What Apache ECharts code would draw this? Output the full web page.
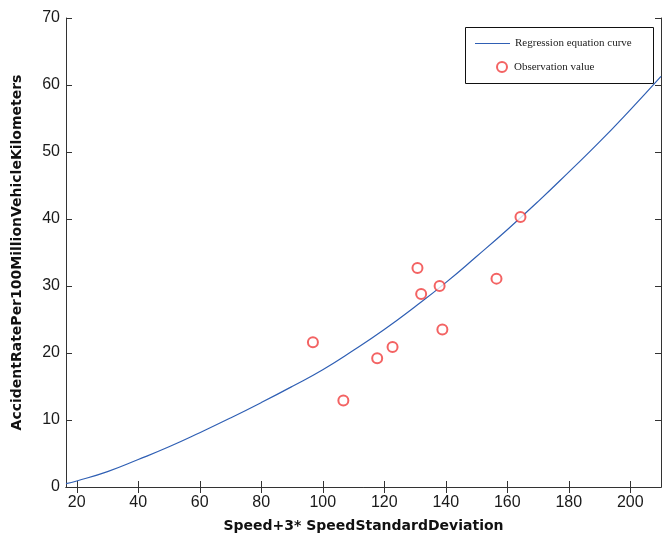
<!DOCTYPE html>
<html>
<head>
<meta charset="utf-8">
<script src="https://cdn.jsdelivr.net/npm/echarts@6/dist/echarts.min.js"></script>
<style>
html,body{margin:0;padding:0;background:#fff;}
#chart{width:662px;height:540px;}
</style>
</head>
<body>
<div id="chart"></div>
<script>
// Regression curve
const curveX = [16.5, 20, 30, 40, 50, 60, 70, 80, 90, 100, 110, 120, 130, 140, 150, 160, 170, 180, 190, 200, 210];
const curveY = [0.5, 0.9, 2.3, 4.1, 6.0, 8.1, 10.3, 12.6, 15.0, 17.5, 20.4, 23.5, 26.9, 30.5, 34.4, 38.4, 42.6, 47.0, 51.5, 56.3, 61.3];
// Observation values
const obsX = [96.8, 106.7, 117.7, 122.7, 130.8, 132.0, 138.0, 138.9, 156.5, 164.3];
const obsY = [21.6, 12.9, 19.2, 20.9, 32.7, 28.8, 30.0, 23.5, 31.1, 40.3];
// Tick labels
const xTicks = [20, 40, 60, 80, 100, 120, 140, 160, 180, 200];
const yTicks = [0, 10, 20, 30, 40, 50, 60, 70];

const chart = echarts.init(document.getElementById('chart'));
const axisCol = '#333';
const labelFont = {fontFamily: 'Liberation Sans', fontSize: 16, color: '#1a1a1a'};
const nameFont = {fontFamily: 'DejaVu Sans', fontSize: 14, fontWeight: 'bold', color: '#111'};

chart.setOption({
  backgroundColor: '#fff',
  animation: false,
  grid: {left: 66, right: 1, top: 18, bottom: 53},
  xAxis: [{
    type: 'value', min: 16.5, max: 210, position: 'bottom',
    name: 'Speed+3* SpeedStandardDeviation', nameLocation: 'middle', nameGap: 32,
    nameTextStyle: nameFont,
    axisLine: {show: true, lineStyle: {color: axisCol, width: 1}},
    axisTick: {show: true, inside: true, length: 6, customValues: xTicks, lineStyle: {color: axisCol}},
    axisLabel: Object.assign({customValues: xTicks, margin: 8}, labelFont),
    splitLine: {show: false}
  }, {
    type: 'value', min: 16.5, max: 210, position: 'top',
    axisLine: {show: true, lineStyle: {color: axisCol, width: 1}},
    axisTick: {show: true, inside: true, length: 6, customValues: xTicks, lineStyle: {color: axisCol}},
    axisLabel: {show: false},
    splitLine: {show: false}
  }],
  yAxis: [{
    type: 'value', min: 0, max: 70, interval: 10, position: 'left',
    name: 'AccidentRatePer100MillionVehicleKilometers', nameLocation: 'middle', nameGap: 42,
    nameTextStyle: nameFont,
    axisLine: {show: true, lineStyle: {color: axisCol, width: 1}},
    axisTick: {show: true, inside: true, length: 6, lineStyle: {color: axisCol}},
    axisLabel: Object.assign({margin: 6, customValues: yTicks}, labelFont),
    splitLine: {show: false}
  }, {
    type: 'value', min: 0, max: 70, interval: 10, position: 'right',
    axisLine: {show: true, lineStyle: {color: axisCol, width: 1}},
    axisTick: {show: true, inside: true, length: 6, lineStyle: {color: axisCol}},
    axisLabel: {show: false},
    splitLine: {show: false}
  }],
  legend: [{
    data: [{name: 'Regression equation curve', icon: 'rect'}],
    left: 475, top: 38, padding: 0,
    itemWidth: 35, itemHeight: 1.2,
    textStyle: {fontFamily: 'Liberation Serif', fontSize: 11, color: '#222'}
  }, {
    data: [{name: 'Observation value', icon: 'emptyCircle'}],
    left: 496, top: 61, padding: 0,
    itemWidth: 14, itemHeight: 10,
    textStyle: {fontFamily: 'Liberation Serif', fontSize: 11, color: '#222'}
  }],
  graphic: [{
    type: 'rect', left: 465, top: 27, z: -1,
    shape: {width: 188, height: 56},
    style: {fill: '#fff', stroke: '#111', lineWidth: 1}
  }],
  series: [{
    name: 'Regression equation curve',
    type: 'line',
    data: curveX.map((x, i) => [x, curveY[i]]),
    symbol: 'none',
    smooth: true,
    lineStyle: {color: '#2f5fb4', width: 1.2},
    itemStyle: {color: '#2f5fb4'},
    z: 2
  }, {
    name: 'Observation value',
    type: 'scatter',
    data: obsX.map((x, i) => [x, obsY[i]]),
    symbol: 'emptyCircle',
    symbolSize: 10,
    itemStyle: {color: '#f03c3c', borderWidth: 1.1},
    z: 3
  }]
});
</script>
</body>
</html>
